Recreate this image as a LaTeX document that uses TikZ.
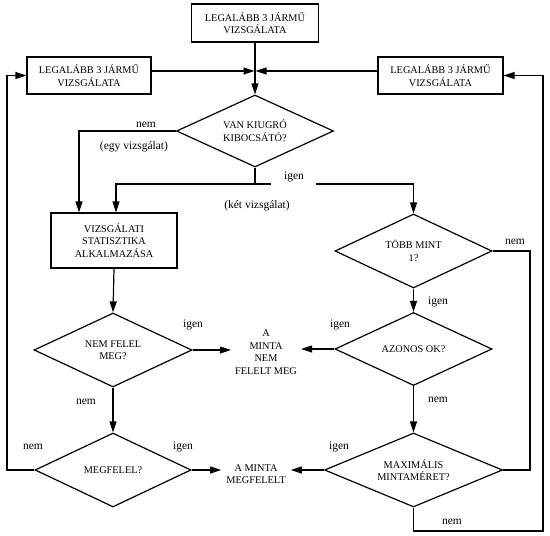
\documentclass[tikz,border=0pt]{standalone}
\usepackage{fontspec}
\setmainfont{Liberation Serif}
\usetikzlibrary{shapes.geometric,arrows.meta}
\begin{document}
\begin{tikzpicture}[x=1pt,y=-1pt,
  every node/.style={font=\fontsize{10.3}{12.5}\selectfont},
  box/.style={draw,line width=1.2pt,align=center,inner sep=0pt},
  dia/.style={draw,line width=1.2pt,diamond,shape aspect=2.1,align=center,inner sep=0pt},
  txt/.style={align=center,inner sep=0pt},
  lbl/.style={font=\fontsize{11.5}{13}\selectfont,inner sep=0pt},
  conn/.style={line width=1.2pt},
  arr/.style={conn,-{Triangle[length=11pt,width=7pt]}}]
\useasboundingbox (0,0) rectangle (550,536);
% boxes
\node[box,minimum width=127pt,minimum height=38pt] (top) at (255,23) {LEGALÁBB 3 JÁRMŰ\\VIZSGÁLATA};
\node[box,minimum width=124pt,minimum height=37pt] (lbox) at (89,75.5) {LEGALÁBB 3 JÁRMŰ\\VIZSGÁLATA};
\node[box,minimum width=125pt,minimum height=37pt] (rbox) at (440.5,75.5) {LEGALÁBB 3 JÁRMŰ\\VIZSGÁLATA};
\node[box,minimum width=126pt,minimum height=55pt] (stat) at (114,240.5) {VIZSGÁLATI\\STATISZTIKA\\ALKALMAZÁSA};
% diamonds
\node[dia,minimum width=157pt,minimum height=72pt] (d1) at (255,131) {\raisebox{-3pt}{\shortstack{VAN KIUGRÓ\\[1pt]KIBOCSÁTÓ?}}};
\node[dia,minimum width=158pt,minimum height=74pt] (d2) at (113,350) {NEM FELEL\\MEG?};
\node[dia,minimum width=156pt,minimum height=74pt] (d3) at (113,470) {MEGFELEL?};
\node[dia,minimum width=157pt,minimum height=74pt] (d4) at (413.5,251) {TÖBB MINT\\1?};
\node[dia,minimum width=157pt,minimum height=73pt] (d5) at (413.5,349) {AZONOS OK?};
\node[dia,minimum width=178pt,minimum height=74pt] (d6) at (413.5,470) {MAXIMÁLIS\\MINTAMÉRET?};
% result texts
\node[txt,inner xsep=1pt] (t1) at (266,352) {A\\MINTA\\NEM\\FELELT MEG};
\node[txt,inner xsep=5pt] (t2) at (256,474) {A MINTA\\MEGFELELT};
% coordinates
\coordinate (J) at (255,71);
\coordinate (B) at (255,184);
\coordinate (Ga) at (271,184);
\coordinate (Gb) at (316,184);
\coordinate (R1) at (530,470);
\coordinate (R2) at (543,531);
\coordinate (L2) at (7,470);
% connectors
\draw[arr] (top.south) -- (d1.north);
\draw[arr,shorten >=0.5pt] (lbox.east |- J) -- (J);
\draw[arr,shorten >=0.5pt] (rbox.west |- J) -- (J);
\draw[arr] (d1.west) -| ([xshift=-35pt]stat.north);
\draw[conn] (d1.south) -- (B);
\draw[arr] (Ga) -| ([xshift=2pt]stat.north);
\draw[arr] (Gb) -| (d4.north);
\draw[arr] (stat.south) -- (d2.north);
\draw[arr,shorten >=3pt] (d2.east) -- (d2.east -| t1.west);
\draw[arr,shorten >=3pt] (d5.west) -- (d5.west -| t1.east);
\draw[arr] (d2.south) -- (d3.north);
\draw[arr] (d3.east) -- (d3.east -| t2.west);
\draw[arr] (d6.west) -- (d6.west -| t2.east);
\draw[arr] (d4.south) -- (d5.north);
\draw[arr] (d5.south) -- (d6.north);
\draw[conn] (d4.east) -| (R1) -- (d6.east);
\draw[arr] (d6.south) |- (R2) |- (rbox.east);
\draw[arr] (d3.west) -- (L2) |- (lbox.west);
% labels
\node[lbl] (n1) at (146,125) {nem};
\node[lbl] (e1) at (134,147) {(egy vizsgálat)};
\node[lbl] (i1) at (294,177) {igen};
\node[lbl] (k1) at (257,206) {(két vizsgálat)};
\node[lbl] (n2) at (515,242) {nem};
\node[lbl] (i2) at (438,302) {igen};
\node[lbl] (i3) at (193,325) {igen};
\node[lbl] (i4) at (340,325) {igen};
\node[lbl] (n3) at (86,402) {nem};
\node[lbl] (n4) at (438,400) {nem};
\node[lbl] (n5) at (33,447) {nem};
\node[lbl] (i5) at (183,447) {igen};
\node[lbl] (i6) at (339,447) {igen};
\node[lbl] (n6) at (452,522) {nem};
\end{tikzpicture}
\end{document}
